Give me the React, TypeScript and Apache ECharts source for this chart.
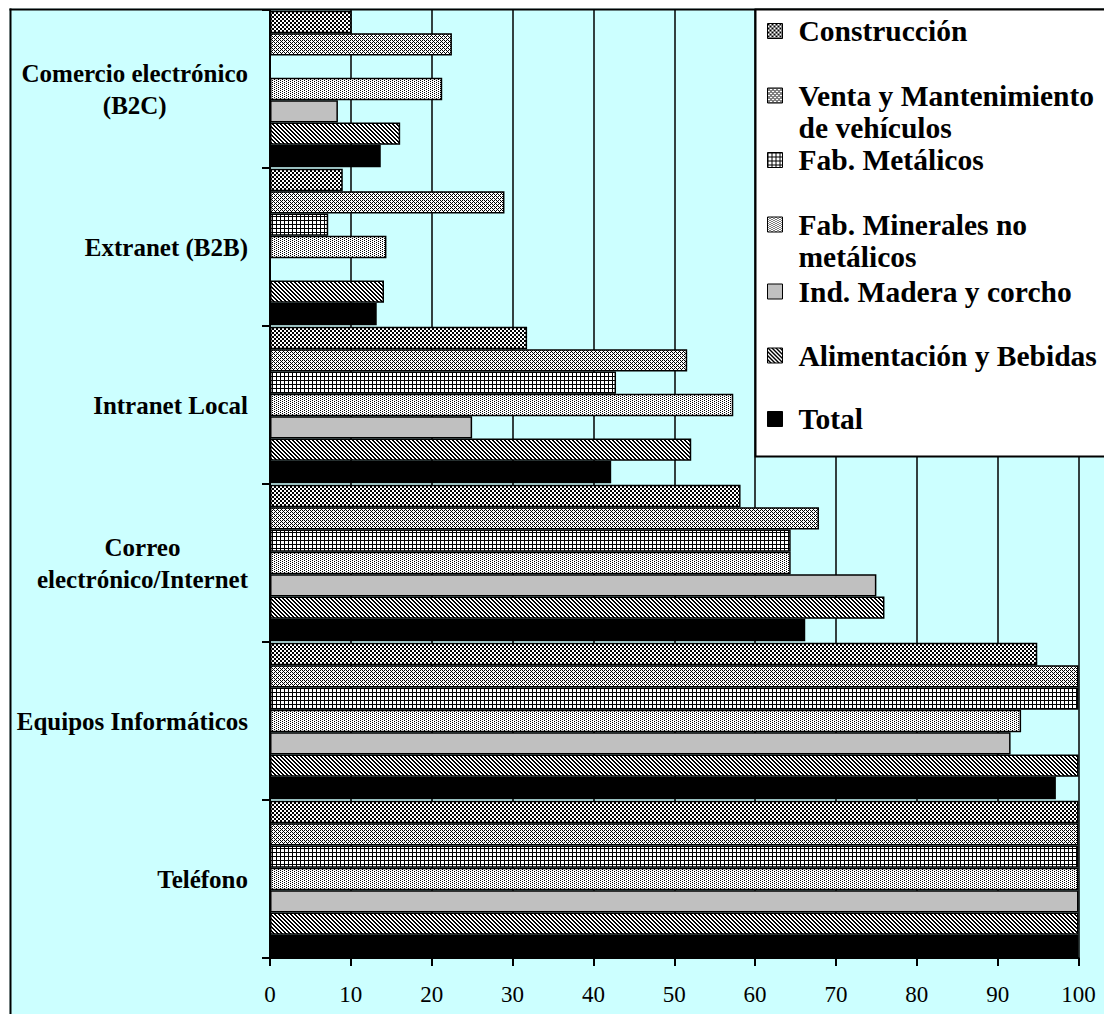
import React, { useEffect, useRef } from 'react';
import * as echarts from 'echarts';

// ---- DATA ----
const categories = [
  'Teléfono',
  'Equipos Informáticos',
  'Correo\nelectrónico/Internet',
  'Intranet Local',
  'Extranet (B2B)',
  'Comercio electrónico\n(B2C)',
];
const seriesNames = [
  'Construcción',
  'Venta y Mantenimiento de vehículos',
  'Fab. Metálicos',
  'Fab. Minerales no metálicos',
  'Ind. Madera y corcho',
  'Alimentación y Bebidas',
  'Total',
];
const legendLabels = [
  'Construcción',
  'Venta y Mantenimiento\nde vehículos',
  'Fab. Metálicos',
  'Fab. Minerales no\nmetálicos',
  'Ind. Madera y corcho',
  'Alimentación y Bebidas',
  'Total',
];
const construccion = [100, 94.9, 58.2, 31.8, 9.0, 10.1];
const venta = [100, 100, 67.9, 51.6, 29.0, 22.5];
const metalicos = [100, 100, 64.4, 42.8, 7.2, null];
const minerales = [100, 92.9, 64.4, 57.3, 14.4, 21.3];
const madera = [100, 91.6, 75.0, 25.0, null, 8.4];
const alimentacion = [100, 100, 76.0, 52.1, 14.1, 16.1];
const total = [100, 97.2, 66.2, 42.2, 13.2, 13.7];
const xMin = 0;
const xMax = 100;
const xStep = 10;

const seriesData = [construccion, venta, metalicos, minerales, madera, alimentacion, total];

// ---- STYLE ----
const FONT = '"Liberation Serif", "Times New Roman", serif';
const legendCenters = [31, 95.5, 160, 224.5, 291.5, 355.5, 419];

function makePattern(rows: string[]) {
  const h = rows.length;
  const w = rows[0].length;
  const c = document.createElement('canvas');
  c.width = w;
  c.height = h;
  const ctx = c.getContext('2d')!;
  ctx.fillStyle = '#ffffff';
  ctx.fillRect(0, 0, w, h);
  ctx.fillStyle = '#000000';
  rows.forEach((r, y) => {
    for (let x = 0; x < w; x++) if (r[x] === 'X') ctx.fillRect(x, y, 1, 1);
  });
  return { image: c, repeat: 'repeat', imageWidth: w, imageHeight: h } as any;
}

export default function App() {
  const ref = useRef<HTMLDivElement>(null);
  useEffect(() => {
    document.body.style.margin = '0';
    document.body.style.overflow = 'hidden';
    const chart = echarts.init(ref.current!, null, { renderer: 'svg' });
    const fills: any[] = [
      makePattern(['XX..', 'XX..', '..XX', '..XX']),
      makePattern(['X.X.', '.X..', 'X.X.', '...X']),
      makePattern(['XXXX', 'X...', 'X...', 'X...']),
      makePattern(['X...', '..X.', 'X...', '..X.']),
      '#C0C0C0',
      makePattern(['XX..', '.XX.', '..XX', 'X..X']),
      '#000000',
    ];
    const option: any = {
      animation: false,
      backgroundColor: '#CCFFFF',
      grid: { left: 270, right: 25.5, top: 10, bottom: 56, containLabel: false },
      xAxis: {
        type: 'value',
        min: xMin,
        max: xMax,
        interval: xStep,
        axisLine: { show: true, lineStyle: { color: '#000', width: 2 } },
        axisTick: { show: true, length: 8, lineStyle: { color: '#000', width: 2 } },
        axisLabel: { color: '#000', fontFamily: FONT, fontSize: 23, margin: 25 },
        splitLine: { show: true, lineStyle: { color: '#000', width: 1.5 } },
      },
      yAxis: {
        type: 'category',
        data: categories,
        axisLine: { show: true, lineStyle: { color: '#000', width: 2 } },
        axisTick: { show: true, length: 8, lineStyle: { color: '#000', width: 2 } },
        splitLine: { show: false },
        axisLabel: {
          margin: 22,
          formatter: (v: string) => v.split('\n').map((s) => `{c|${s}}`).join('\n'),
          rich: {
            c: {
              align: 'center',
              fontFamily: FONT,
              fontWeight: 'bold',
              fontSize: 25,
              lineHeight: 32,
              color: '#000',
            },
          },
        },
      },
      legend: seriesNames.map((name, i) => {
        const twoLine = legendLabels[i].includes('\n');
        return {
          data: [name],
          orient: 'vertical',
          left: 767,
          top: legendCenters[i] - (twoLine ? 48 : 16),
          padding: 0,
          icon: 'rect',
          itemWidth: 15,
          itemHeight: 15,
          itemGap: 0,
          z: 100,
          formatter: () => (twoLine ? ' \n' : '') + legendLabels[i],
          itemStyle: { borderColor: '#000', borderWidth: 1 },
          textStyle: {
            fontFamily: FONT,
            fontWeight: 'bold',
            fontSize: 29.5,
            color: '#000',
            lineHeight: 32,
            padding: [0, 0, 0, 11],
          },
        };
      }),
      graphic: [
        { type: 'rect', z: 50, silent: true, shape: { x: 0, y: 0, width: 1104, height: 8.5 }, style: { fill: '#fff' } },
        { type: 'rect', z: 50, silent: true, shape: { x: 0, y: 0, width: 9.5, height: 1014 }, style: { fill: '#fff' } },
        { type: 'line', z: 51, silent: true, shape: { x1: 9.5, y1: 9.5, x2: 1104, y2: 9.5 }, style: { stroke: '#000', lineWidth: 2 } },
        { type: 'line', z: 51, silent: true, shape: { x1: 10.5, y1: 8.5, x2: 10.5, y2: 1014 }, style: { stroke: '#000', lineWidth: 2 } },
        {
          type: 'rect',
          z: 52,
          silent: true,
          shape: { x: 755.5, y: 9.5, width: 400, height: 447 },
          style: { fill: '#fff', stroke: '#000', lineWidth: 2 },
        },
      ],
      series: seriesNames.map((name, i) => ({
        type: 'bar',
        name,
        data: seriesData[i],
        barGap: '0%',
        barCategoryGap: '1%',
        itemStyle: { color: fills[i], borderColor: '#000', borderWidth: 1.5 },
        emphasis: { disabled: true },
      })),
    };
    chart.setOption(option);
    return () => chart.dispose();
  }, []);
  return <div ref={ref} style={{ width: 1104, height: 1014 }} />;
}
